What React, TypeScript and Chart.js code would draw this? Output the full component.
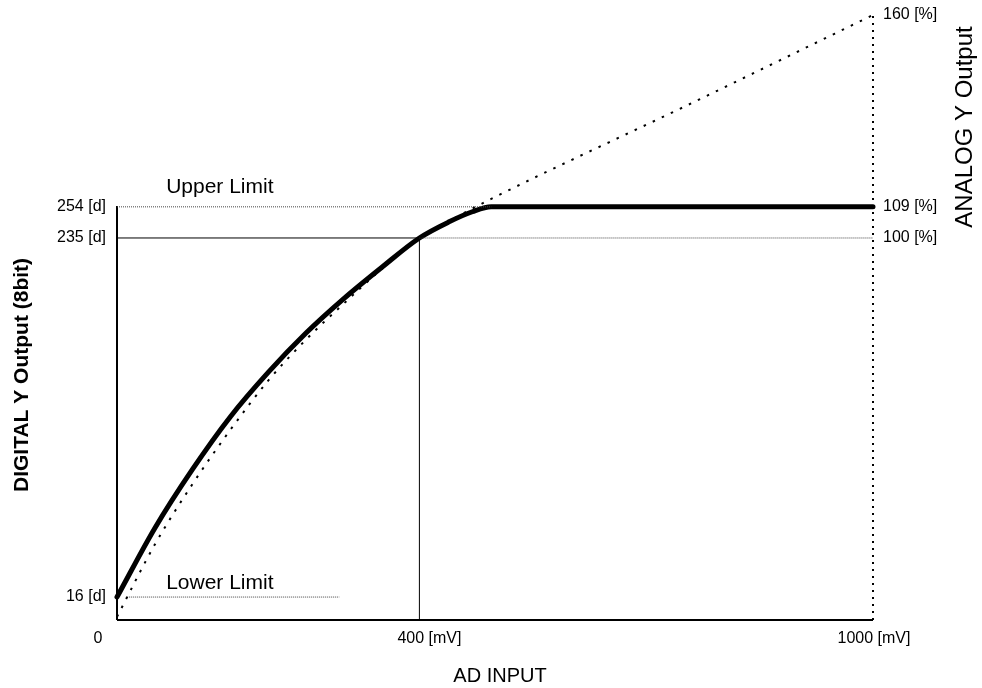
import { useEffect, useRef } from "react";
import { Chart, registerables } from "chart.js";

Chart.register(...registerables);

// ---- data (AD input in mV, digital output in [d]) ----
const outputMv = [0, 50, 100, 150, 200, 250, 300, 350, 400, 440, 470, 495, 1000];
const outputD = [16, 58, 94, 126, 153, 177, 198, 217, 235, 245, 251, 254, 254];

const gammaMv = [0, 50, 100, 150, 200, 250, 300, 350, 400, 450, 500, 750, 1000];
const gammaD = [4, 48, 85, 118, 148, 173, 195, 216, 235, 248, 260, 315, 371];

const xTickValues = [0, 400, 1000];
const xTickLabels = ["0", "400 [mV]", "1000 [mV]"];
const leftTickValues = [16, 235, 254];
const leftTickLabels = ["16 [d]", "235 [d]", "254 [d]"];
const rightTickValues = [235, 254, 371];
const rightTickLabels = ["100 [%]", "109 [%]", "160 [%]"];

const upperLimit = 254;
const lowerLimit = 16;
const whiteLevel = 235;
const whiteInput = 400;
const kneeInput = 495;
const lowerLimitFrom = 13;
const lowerLimitTo = 294;

const X_MIN = 0;
const X_MAX = 1000;
const Y_MIN = 2;
const Y_MAX = 371;

const FONT = '"Liberation Sans", Arial, Helvetica, sans-serif';

function pts(xs: number[], ys: number[]) {
  return xs.map((x, i) => ({ x, y: ys[i] }));
}

function seg(x1: number, y1: number, x2: number, y2: number) {
  return [
    { x: x1, y: y1 },
    { x: x2, y: y2 },
  ];
}

const thinDot = [1, 1];

export default function App() {
  const ref = useRef<HTMLCanvasElement | null>(null);

  useEffect(() => {
    const canvas = ref.current;
    if (!canvas) return;

    const textPlugin = {
      id: "texts",
      afterDraw(chart: any) {
        const ctx = chart.ctx as CanvasRenderingContext2D;
        const xs = chart.scales.x;
        const ys = chart.scales.y;
        const ca = chart.chartArea;
        ctx.save();
        ctx.fillStyle = "#000";

        // left ticks
        ctx.font = `16px ${FONT}`;
        ctx.textAlign = "right";
        ctx.textBaseline = "middle";
        leftTickValues.forEach((v, i) => {
          ctx.fillText(leftTickLabels[i], xs.getPixelForValue(X_MIN) - 11, ys.getPixelForValue(v));
        });
        // right ticks
        ctx.textAlign = "left";
        rightTickValues.forEach((v, i) => {
          ctx.fillText(rightTickLabels[i], xs.getPixelForValue(X_MAX) + 10, ys.getPixelForValue(v));
        });
        // bottom ticks
        const by = ys.getPixelForValue(Y_MIN) + 19;
        ctx.textAlign = "center";
        xTickValues.forEach((v, i) => {
          let dx = 10;
          if (v === X_MIN) dx = -19;
          else if (v === X_MAX) dx = 1;
          ctx.fillText(xTickLabels[i], xs.getPixelForValue(v) + dx, by);
        });

        // limit labels
        ctx.font = `21px ${FONT}`;
        ctx.textAlign = "left";
        ctx.textBaseline = "alphabetic";
        ctx.fillText("Upper Limit", xs.getPixelForValue(65), ys.getPixelForValue(262.5));
        ctx.fillText("Lower Limit", xs.getPixelForValue(65), ys.getPixelForValue(21));

        // x title
        ctx.font = `20px ${FONT}`;
        ctx.textAlign = "center";
        ctx.textBaseline = "middle";
        ctx.fillText("AD INPUT", (ca.left + ca.right) / 2 + 5, 676);

        // left title
        ctx.save();
        ctx.translate(22, 375);
        ctx.rotate(-Math.PI / 2);
        ctx.font = `bold 21px ${FONT}`;
        ctx.fillText("DIGITAL Y Output (8bit)", 0, 0);
        ctx.restore();

        // right title
        ctx.save();
        ctx.translate(965, 127);
        ctx.rotate(-Math.PI / 2);
        ctx.font = `24px ${FONT}`;
        ctx.fillText("ANALOG Y Output", 0, 0);
        ctx.restore();

        ctx.restore();
      },
    };

    const line = (data: any[], width: number, dash: number[] = [], color = "#000", extra: any = {}) => ({
      data,
      borderColor: color,
      borderWidth: width,
      borderDash: dash,
      pointRadius: 0,
      pointHoverRadius: 0,
      fill: false,
      tension: 0,
      clip: false,
      ...extra,
    });

    const chart = new Chart(canvas, {
      type: "line",
      data: {
        datasets: [
          line(seg(X_MAX, Y_MIN, X_MAX, Y_MAX), 2, [2, 5]),
          line(pts(gammaMv, gammaD), 2, [2.5, 7.5], "#000", { cubicInterpolationMode: "monotone" }),
          line(seg(X_MIN, upperLimit, kneeInput, upperLimit), 1, thinDot, "#444"),
          line(seg(X_MIN, whiteLevel, whiteInput, whiteLevel), 1, [], "#000"),
          line(seg(whiteInput, whiteLevel, X_MAX, whiteLevel), 1, thinDot, "#444"),
          line(seg(whiteInput, Y_MIN, whiteInput, whiteLevel), 1, [], "#000"),
          line(seg(lowerLimitFrom, lowerLimit, lowerLimitTo, lowerLimit), 1, thinDot, "#444"),
          line(seg(X_MIN, Y_MIN, X_MIN, upperLimit + 0.5), 2, [], "#000"),
          line(seg(X_MIN, Y_MIN, X_MAX, Y_MIN), 2, [], "#000"),
          line(pts(outputMv, outputD), 5, [], "#000", {
            cubicInterpolationMode: "monotone",
            borderJoinStyle: "round",
            borderCapStyle: "round",
          }),
        ],
      },
      options: {
        responsive: false,
        animation: false,
        devicePixelRatio: 1,
        parsing: false as any,
        layout: { padding: { left: 117, right: 109, top: 15, bottom: 68 } },
        plugins: { legend: { display: false }, tooltip: { enabled: false } },
        events: [],
        scales: {
          x: { type: "linear", min: X_MIN, max: X_MAX, display: false },
          y: { type: "linear", min: Y_MIN, max: Y_MAX, display: false },
        },
      },
      plugins: [textPlugin],
    });

    return () => chart.destroy();
  }, []);

  return (
    <div style={{ position: "absolute", left: 0, top: 0, width: 982, height: 688, background: "#fff" }}>
      <canvas ref={ref} width={982} height={688} style={{ width: 982, height: 688, display: "block" }} />
    </div>
  );
}
